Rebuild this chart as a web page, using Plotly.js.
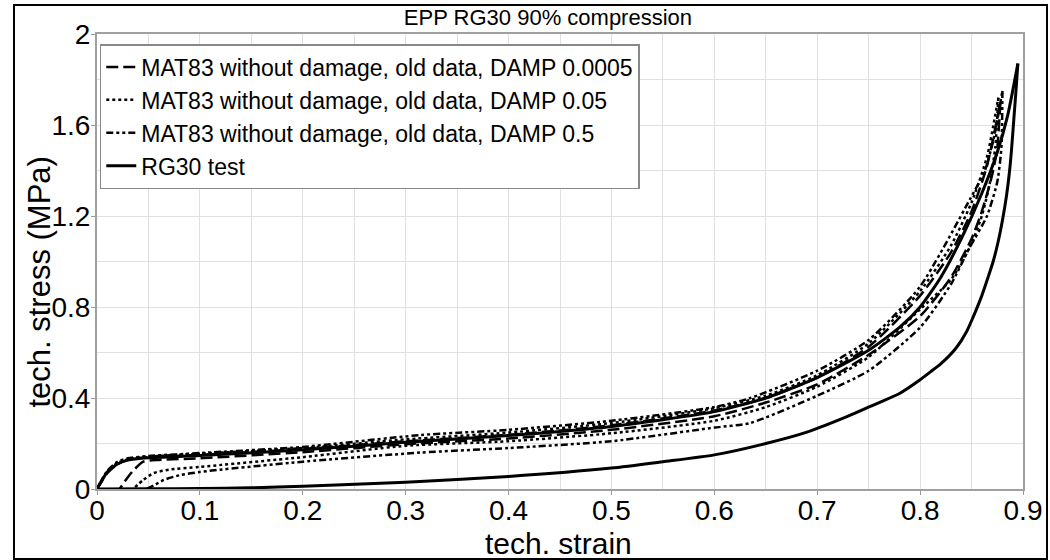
<!DOCTYPE html>
<html>
<head>
<meta charset="utf-8">
<script src="https://cdn.plot.ly/plotly-3.0.1.min.js"></script>
<style>
  html, body { margin: 0; padding: 0; background: #fff; }
  #wrap { position: relative; width: 1050px; height: 560px; }
  #chart { width: 1050px; height: 560px; }
  #frame { position: absolute; left: 13px; top: 4px; width: 1031px; height: 552px; border: 2px solid #000; pointer-events: none; }
</style>
</head>
<body>
<div id="wrap"><div id="chart"></div><div id="frame"></div></div>
<script>
// ---- data ----
// RG30 test: loading branch
const testLoadStrain = [0, 0.005, 0.01, 0.02, 0.03, 0.05, 0.1, 0.2, 0.3, 0.4, 0.5, 0.6, 0.65, 0.7, 0.75, 0.78, 0.8, 0.82, 0.84, 0.86, 0.875, 0.885, 0.895];
const testLoadStress = [0, 0.04, 0.075, 0.11, 0.127, 0.137, 0.147, 0.172, 0.205, 0.235, 0.275, 0.34, 0.40, 0.49, 0.61, 0.71, 0.80, 0.93, 1.1, 1.3, 1.48, 1.64, 1.87];
// RG30 test: unloading branch
const testUnloadStrain = [0.895, 0.893, 0.891, 0.889, 0.887, 0.884, 0.88, 0.876, 0.871, 0.866, 0.86, 0.851, 0.845, 0.835, 0.82, 0.81, 0.8, 0.78, 0.755, 0.73, 0.69, 0.65, 0.6, 0.55, 0.5, 0.4, 0.3, 0.2, 0.15, 0.1, 0.05, 0];
const testUnloadStress = [1.87, 1.74, 1.62, 1.5, 1.4, 1.29, 1.18, 1.09, 1.0, 0.93, 0.85, 0.75, 0.69, 0.62, 0.55, 0.515, 0.48, 0.42, 0.37, 0.32, 0.25, 0.2, 0.15, 0.12, 0.092, 0.055, 0.03, 0.012, 0.005, 0.002, 0.001, 0];

// MAT83, DAMP 0.0005
const d1LoadStrain = [0, 0.01, 0.02, 0.03, 0.05, 0.1, 0.2, 0.3, 0.4, 0.5, 0.6, 0.65, 0.7, 0.75, 0.8, 0.83, 0.85, 0.865, 0.878];
const d1LoadStress = [0, 0.07, 0.11, 0.128, 0.14, 0.15, 0.176, 0.21, 0.238, 0.28, 0.345, 0.40, 0.49, 0.625, 0.85, 1.04, 1.22, 1.42, 1.7];
const d1UnloadStrain = [0.878, 0.875, 0.87, 0.86, 0.85, 0.83, 0.8, 0.75, 0.7, 0.65, 0.6, 0.5, 0.4, 0.3, 0.2, 0.1, 0.06, 0.045, 0.035, 0.028, 0.022];
const d1UnloadStress = [1.7, 1.5, 1.38, 1.22, 1.1, 0.93, 0.76, 0.59, 0.46, 0.38, 0.32, 0.26, 0.222, 0.197, 0.162, 0.135, 0.128, 0.12, 0.08, 0.04, 0];

// MAT83, DAMP 0.05
const d2LoadStrain = [0, 0.01, 0.02, 0.03, 0.05, 0.1, 0.2, 0.3, 0.4, 0.5, 0.6, 0.65, 0.7, 0.75, 0.8, 0.83, 0.85, 0.865, 0.876];
const d2LoadStress = [0, 0.075, 0.115, 0.13, 0.142, 0.155, 0.18, 0.218, 0.248, 0.29, 0.355, 0.41, 0.5, 0.64, 0.87, 1.07, 1.26, 1.46, 1.72];
const d2UnloadStrain = [0.876, 0.873, 0.868, 0.86, 0.85, 0.83, 0.8, 0.75, 0.7, 0.65, 0.6, 0.5, 0.4, 0.3, 0.2, 0.1, 0.07, 0.055, 0.045, 0.035];
const d2UnloadStress = [1.72, 1.5, 1.35, 1.2, 1.08, 0.92, 0.79, 0.58, 0.45, 0.36, 0.3, 0.245, 0.21, 0.19, 0.14, 0.097, 0.085, 0.07, 0.04, 0];

// MAT83, DAMP 0.5
const d3LoadStrain = [0, 0.01, 0.02, 0.03, 0.05, 0.1, 0.2, 0.314, 0.4, 0.5, 0.6, 0.635, 0.7, 0.75, 0.8, 0.848, 0.863, 0.872, 0.88];
const d3LoadStress = [0, 0.08, 0.12, 0.135, 0.145, 0.158, 0.185, 0.237, 0.26, 0.30, 0.36, 0.40, 0.52, 0.655, 0.89, 1.27, 1.4, 1.55, 1.75];
const d3UnloadStrain = [0.88, 0.879, 0.875, 0.865, 0.848, 0.83, 0.8, 0.75, 0.7, 0.635, 0.6, 0.5, 0.4, 0.314, 0.2, 0.1, 0.08, 0.065, 0.055, 0.048];
const d3UnloadStress = [1.75, 1.5, 1.35, 1.2, 1.06, 0.9, 0.71, 0.52, 0.41, 0.29, 0.27, 0.21, 0.18, 0.16, 0.12, 0.075, 0.06, 0.04, 0.015, 0];

const seriesNames = [
  'MAT83 without damage, old data, DAMP 0.0005',
  'MAT83 without damage, old data, DAMP 0.05',
  'MAT83 without damage, old data, DAMP 0.5',
  'RG30 test'
];
const xTickVals = [0, 0.1, 0.2, 0.3, 0.4, 0.5, 0.6, 0.7, 0.8, 0.9];
const xTickText = ['0', '0.1', '0.2', '0.3', '0.4', '0.5', '0.6', '0.7', '0.8', '0.9'];
const yTickVals = [0, 0.4, 0.8, 1.2, 1.6, 2];
const yTickText = ['0', '0.4', '0.8', '1.2', '1.6', '2'];
const chartTitle = 'EPP RG30 90% compression';
const xTitle = 'tech. strain';
const yTitle = 'tech. stress (MPa)';

// ---- traces ----
const FONT = 'Liberation Sans, Arial, sans-serif';
const styles = [
  { color: '#000', width: 2.5, dash: '12px,5px' },
  { color: '#000', width: 2.5, dash: '3px,3px' },
  { color: '#000', width: 2.5, dash: '7px,3px,3px,3px,3px,3px' },
  { color: '#000', width: 3 }
];
const branches = [
  [d1LoadStrain, d1LoadStress, d1UnloadStrain, d1UnloadStress],
  [d2LoadStrain, d2LoadStress, d2UnloadStrain, d2UnloadStress],
  [d3LoadStrain, d3LoadStress, d3UnloadStrain, d3UnloadStress],
  [testLoadStrain, testLoadStress, testUnloadStrain, testUnloadStress]
];
const traces = [];
branches.forEach((b, i) => {
  const ln = Object.assign({ shape: 'spline', smoothing: 0.6 }, styles[i]);
  traces.push({ x: b[0], y: b[1], name: seriesNames[i], legendgroup: 'g' + i, mode: 'lines', line: ln });
  traces.push({ x: b[2], y: b[3], name: seriesNames[i], legendgroup: 'g' + i, showlegend: false, mode: 'lines', line: ln });
});

const layout = {
  width: 1050, height: 560,
  margin: { l: 97, r: 27, t: 34, b: 71, pad: 0 },
  paper_bgcolor: '#fff', plot_bgcolor: '#fff',
  font: { family: FONT, color: '#000' },
  showlegend: true,
  title: { text: chartTitle, font: { family: FONT, size: 22, color: '#000' },
           x: 0.487, xref: 'paper', xanchor: 'center', y: 0.97, yref: 'container', yanchor: 'middle' },
  xaxis: {
    range: [0, 0.9], tickmode: 'array', tickvals: xTickVals, ticktext: xTickText,
    tickfont: { family: FONT, size: 28, color: '#000' },
    ticks: 'outside', ticklen: 4, tickcolor: '#999', tickwidth: 1, ticklabelstandoff: -9,
    showgrid: true, gridcolor: '#e0e0e0', gridwidth: 1,
    minor: { dtick: 0.05, showgrid: true, gridcolor: '#e0e0e0', gridwidth: 1 },
    showline: true, linecolor: '#a0a0a0', linewidth: 2, mirror: true,
    zeroline: false, automargin: false
  },
  yaxis: {
    range: [0, 2], tickmode: 'array', tickvals: yTickVals, ticktext: yTickText,
    tickfont: { family: FONT, size: 28, color: '#000' },
    ticks: 'outside', ticklen: 4, tickcolor: '#999', tickwidth: 1, ticklabelstandoff: -5,
    showgrid: true, gridcolor: '#e0e0e0', gridwidth: 1,
    minor: { dtick: 0.2, showgrid: true, gridcolor: '#e0e0e0', gridwidth: 1 },
    showline: true, linecolor: '#a0a0a0', linewidth: 2, mirror: true,
    zeroline: false, automargin: false
  },
  annotations: [
    { text: xTitle, xref: 'paper', yref: 'paper', x: 0.498, y: -0.12, xanchor: 'center', yanchor: 'middle',
      showarrow: false, font: { family: FONT, size: 30, color: '#000' } },
    { text: yTitle, xref: 'paper', yref: 'paper', x: -0.062, y: 0.455, xanchor: 'center', yanchor: 'middle',
      textangle: -90, showarrow: false, font: { family: FONT, size: 31, color: '#000' } }
  ],
  legend: {
    x: 0.003, y: 0.978, xanchor: 'left', yanchor: 'top',
    bgcolor: '#fff', bordercolor: '#888', borderwidth: 1.5,
    font: { family: FONT, size: 23, color: '#000' },
    tracegroupgap: 0, itemwidth: 30
  },
  hovermode: false
};

Plotly.newPlot('chart', traces, layout, { displayModeBar: false, staticPlot: true });
</script>
</body>
</html>
